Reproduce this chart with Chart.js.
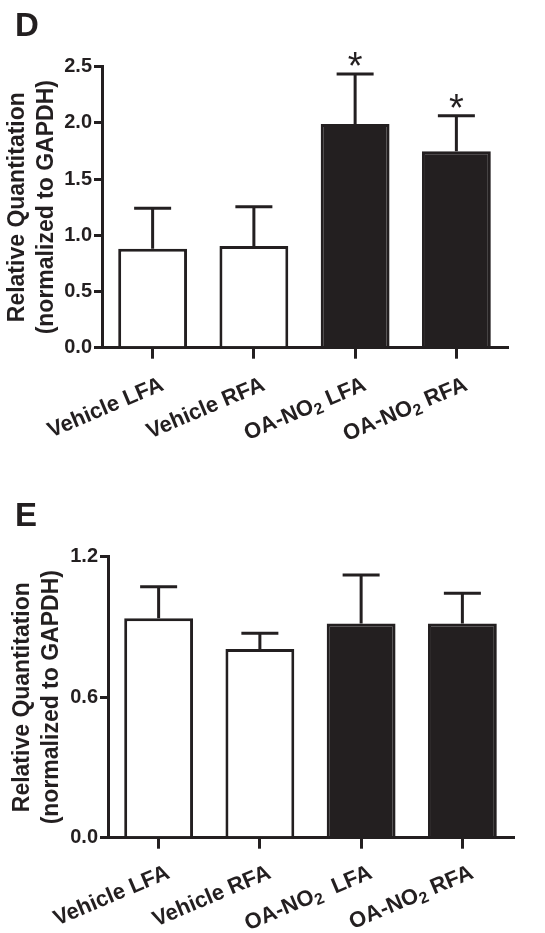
<!DOCTYPE html>
<html>
<head>
<meta charset="utf-8">
<script src="https://cdn.jsdelivr.net/npm/chart.js@4.4.0/dist/chart.umd.min.js"></script>
<style>
  html, body { margin: 0; padding: 0; background: #ffffff; }
  canvas { display: block; }
</style>
</head>
<body>
<canvas id="chartD" width="545" height="470"></canvas>
<canvas id="chartE" width="545" height="463"></canvas>
<script>
// ---------------- data ----------------
const categoriesD = ['Vehicle LFA', 'Vehicle RFA', 'OA-NO\u2082 LFA', 'OA-NO\u2082 RFA'];
const valuesD = [0.88, 0.905, 1.99, 1.747];
const errorsD = [0.36, 0.35, 0.445, 0.317];
const marksD = ['', '', '*', '*'];
const yTicksD = [0.0, 0.5, 1.0, 1.5, 2.0, 2.5];

const categoriesE = ['Vehicle LFA', 'Vehicle RFA', 'OA-NO\u2082  LFA', 'OA-NO\u2082 RFA'];
const valuesE = [0.937, 0.806, 0.915, 0.915];
const errorsE = [0.135, 0.067, 0.207, 0.129];
const marksE = ['', '', '', ''];
const yTicksE = [0.0, 0.6, 1.2];

const panelLabels = ['D', 'E'];
const yTitle = ['Relative Quantitation', '(normalized to GAPDH)'];
const fills = ['#ffffff', '#ffffff', '#231f20', '#231f20'];

// ---------------- style ----------------
const INK = '#231f20';
const FONT = "'Liberation Sans', Arial, Helvetica, sans-serif";
const SUB = '\u2082';

const errorBarPlugin = {
  id: 'errorBars',
  afterDatasetsDraw(chart, args, opts) {
    const ctx = chart.ctx;
    const meta = chart.getDatasetMeta(0);
    const ds = chart.data.datasets[0];
    const y = chart.scales.y;
    ctx.save();
    ctx.strokeStyle = INK;
    ctx.lineWidth = 3;
    meta.data.forEach((bar, i) => {
      const top = y.getPixelForValue(ds.data[i] + opts.errors[i]);
      ctx.beginPath();
      ctx.moveTo(bar.x, bar.y);
      ctx.lineTo(bar.x, top);
      ctx.moveTo(bar.x - opts.capWidth / 2, top);
      ctx.lineTo(bar.x + opts.capWidth / 2, top);
      ctx.stroke();
      const mk = opts.marks[i];
      if (mk) {
        ctx.fillStyle = INK;
        ctx.font = "38px " + FONT;
        ctx.textAlign = 'center';
        ctx.textBaseline = 'alphabetic';
        const m = ctx.measureText(mk);
        const cy = top - 15;
        ctx.fillText(mk, bar.x, cy + (m.actualBoundingBoxAscent - m.actualBoundingBoxDescent) / 2);
      }
    });
    ctx.restore();
  }
};

// rotated category labels with a real subscript 2
const xLabelPlugin = {
  id: 'xLabels',
  afterDraw(chart, args, opts) {
    const ctx = chart.ctx;
    const xs = chart.scales.x;
    const axisY = chart.chartArea.bottom;
    const main = "bold 22px " + FONT;
    const sub = "bold 16px " + FONT;
    const ang = -opts.angle * Math.PI / 180;
    ctx.save();
    ctx.fillStyle = INK;
    ctx.textBaseline = 'alphabetic';
    ctx.textAlign = 'left';
    chart.data.labels.forEach((lab, i) => {
      const parts = lab.split(SUB);
      const segs = [];
      parts.forEach((p, k) => {
        if (p) segs.push({ t: p, f: main, dy: 0 });
        if (k < parts.length - 1) segs.push({ t: '2', f: sub, dy: 4 });
      });
      let total = 0;
      segs.forEach(s => { ctx.font = s.f; s.w = ctx.measureText(s.t).width; total += s.w; });
      ctx.save();
      ctx.translate(xs.getPixelForTick(i) + opts.dx, axisY + opts.dy);
      ctx.rotate(ang);
      let x = -total;
      const base = 16;
      segs.forEach(s => {
        ctx.font = s.f;
        ctx.fillText(s.t, x, base + s.dy);
        x += s.w;
      });
      ctx.restore();
    });
    ctx.restore();
  }
};

const panelLabelPlugin = {
  id: 'panelLabel',
  afterDraw(chart, args, opts) {
    const ctx = chart.ctx;
    ctx.save();
    ctx.fillStyle = INK;
    ctx.font = "bold 33px " + FONT;
    ctx.textAlign = 'left';
    ctx.textBaseline = 'alphabetic';
    ctx.fillText(opts.text, opts.x, opts.y);
    ctx.restore();
  }
};

function makeChart(id, cats, vals, errs, marks, ticks, geo) {
  const canvas = document.getElementById(id);
  return new Chart(canvas, {
    type: 'bar',
    data: {
      labels: cats,
      datasets: [{
        data: vals,
        backgroundColor: fills,
        borderColor: INK,
        borderWidth: 3,
        borderSkipped: 'start',
        barPercentage: 0.68,
        categoryPercentage: 1.0
      }]
    },
    plugins: [errorBarPlugin, xLabelPlugin, panelLabelPlugin],
    options: {
      responsive: false,
      animation: false,
      devicePixelRatio: 1,
      layout: { padding: { left: 0, top: geo.top, right: geo.right, bottom: 0 } },
      plugins: {
        legend: { display: false },
        tooltip: { enabled: false },
        errorBars: { errors: errs, marks: marks, capWidth: 37 },
        xLabels: { angle: 23, dx: 6, dy: geo.labelDy },
        panelLabel: { text: geo.label, x: 15, y: geo.labelY }
      },
      scales: {
        x: {
          offset: true,
          afterFit(s) { s.height = geo.xHeight; },
          grid: {
            offset: false,
            drawOnChartArea: false,
            drawTicks: true,
            tickLength: 11,
            tickWidth: 3,
            tickColor: INK,
            lineWidth: 3,
            color: INK
          },
          border: { display: true, color: INK, width: 3 },
          ticks: { display: false, autoSkip: false }
        },
        y: {
          min: 0,
          max: ticks[ticks.length - 1],
          afterFit(s) { s.width = geo.yWidth; },
          afterBuildTicks(s) { s.ticks = ticks.map(v => ({ value: v })); },
          grid: {
            drawOnChartArea: false,
            drawTicks: true,
            tickLength: 8,
            tickWidth: 3,
            tickColor: INK,
            lineWidth: 3,
            color: INK
          },
          border: { display: true, color: INK, width: 3 },
          ticks: {
            padding: 2,
            color: INK,
            font: { family: FONT, size: 20, weight: 'bold' },
            callback: (v) => Number(v).toFixed(1)
          },
          title: {
            display: true,
            text: yTitle,
            color: INK,
            padding: { top: geo.titlePad, bottom: 0 },
            font: { family: FONT, size: 23, weight: 'bold', lineHeight: 1.27 }
          }
        }
      }
    }
  });
}

makeChart('chartD', categoriesD, valuesD, errorsD, marksD, yTicksD,
  { top: 66.7, right: 38, xHeight: 470 - 347.7, yWidth: 102, titlePad: 3, label: panelLabels[0], labelY: 36, labelDy: 27 });
makeChart('chartE', categoriesE, valuesE, errorsE, marksE, yTicksE,
  { top: 86.7, right: 32, xHeight: 463 - 367.7, yWidth: 108, titlePad: 8, label: panelLabels[1], labelY: 56, labelDy: 25 });
</script>
</body>
</html>
